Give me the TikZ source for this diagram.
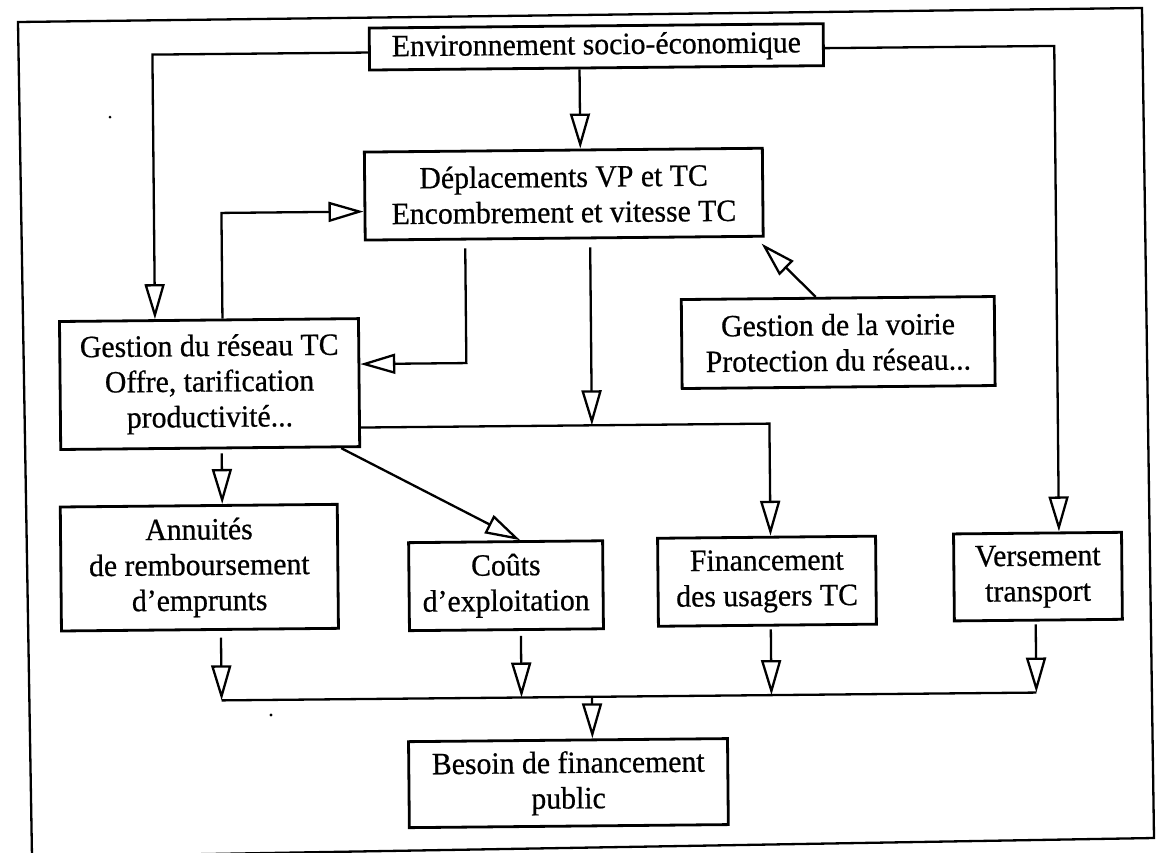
\documentclass[tikz,border=0pt]{standalone}
\usepackage{fontspec}
\setmainfont[FakeBold=0.6,FakeStretch=0.96]{Liberation Serif}
\usetikzlibrary{arrows.meta,calc}
\begin{document}
\begin{tikzpicture}[x=1pt,y=-1pt,
  box/.style={draw, line width=2.8pt, inner sep=0pt, align=center,
              font=\fontsize{31}{35.5}\selectfont},
  link/.style={line width=2.3pt, -{Triangle[open,length=35pt,width=20pt]}},
  plain/.style={line width=2.3pt},
]
\useasboundingbox (0,0) rectangle (1159,852);
\fill[white] (0,0) rectangle (1159,852);

% outer frame
\draw[line width=2.3pt] (18,22) -- (1142,8) -- (1154,838) -- (32,857) -- cycle;

% specks
\fill (110,117) circle (1.5);
\fill (271,715) circle (1.7);

\begin{scope}[rotate around={0.55:(580,426)}, transform shape]
  % boxes
  \node[box, minimum width=454pt, minimum height=42pt]  (env)    at (600,47)    {Environnement socio-économique};
  \node[box, minimum width=398pt, minimum height=88pt]  (depl)   at (566,194)   {Déplacements VP et TC\\Encombrement et vitesse TC};
  \node[box, minimum width=299pt, minimum height=128pt] (gest)   at (210,380.5) {Gestion du réseau TC\\Offre, tarification\\productivité...};
  \node[box, minimum width=313pt, minimum height=89pt]  (voirie) at (839,345)   {Gestion de la voirie\\Protection du réseau...};
  \node[box, minimum width=277pt, minimum height=124pt] (annu)   at (198,564)   {Annuités\\de remboursement\\d’emprunts};
  \node[box, minimum width=194pt, minimum height=88pt]  (couts)  at (504.5,585) {Coûts\\d’exploitation};
  \node[box, minimum width=218pt, minimum height=88pt]  (finu)   at (765.5,583) {Financement\\des usagers TC};
  \node[box, minimum width=168pt, minimum height=87pt]  (vers)   at (1036.5,581){Versement\\transport};
  \node[box, minimum width=319pt, minimum height=86pt]  (besoin) at (565,783)   {Besoin de financement\\public};

  % environment feeds
  \draw[link] ($(env.west)+(0,3.5)$) -| ($(gest.north)+(-54,0)$);
  \draw[link] ($(env.east)+(0,3.5)$) -| ($(vers.north)+(21.5,0)$);
  \draw[link] ($(env.south)+(-17,0)$) -- ($(depl.north)+(17,0)$);

  % loop between network management and trips
  \draw[link] ($(gest.north)+(13.5,0)$) |- ($(depl.west)+(0,15.5)$);
  \draw[link] ($(depl.south)+(-99,8)$) |- ($(gest.east)+(0,-18.5)$);

  % road management
  \draw[link] ($(voirie.north)+(-22,0)$) -- ($(depl.south east)+(-3,6)$);

  % bus towards user financing
  \coordinate (busA) at ($(gest.east)+(0,45)$);
  \coordinate (d6) at ($(depl.south)+(26,8)$);
  \draw[link] (busA) -| ($(finu.north)+(4,0)$);
  \draw[link] (d6) -- (d6 |- busA);

  % network management outputs
  \coordinate (g8) at ($(gest.south)+(11.5,4)$);
  \draw[link] (g8) -- (g8 |- annu.north);
  \draw[link] ($(gest.south)+(131,0)$) -- ($(couts.north)+(14.5,0)$);

  % collector towards public financing
  \coordinate (busB) at (219,697);
  \coordinate (a11) at ($(annu.south)+(21,7)$);
  \coordinate (c11) at ($(couts.south)+(14.5,5)$);
  \coordinate (f11) at ($(finu.south)+(3.5,3)$);
  \coordinate (v11) at ($(vers.south)+(-2.5,3)$);
  \coordinate (b11) at ($(besoin.north)+(24.5,0)$);
  \draw[link] (a11) -- (a11 |- busB);
  \draw[link] (c11) -- (c11 |- busB);
  \draw[link] (f11) -- (f11 |- busB);
  \draw[link] (v11) -- (v11 |- busB);
  \draw[plain] (a11 |- busB) -- (v11 |- busB);
  \draw[link] (b11 |- busB) -- (b11);
\end{scope}
\end{tikzpicture}
\end{document}
